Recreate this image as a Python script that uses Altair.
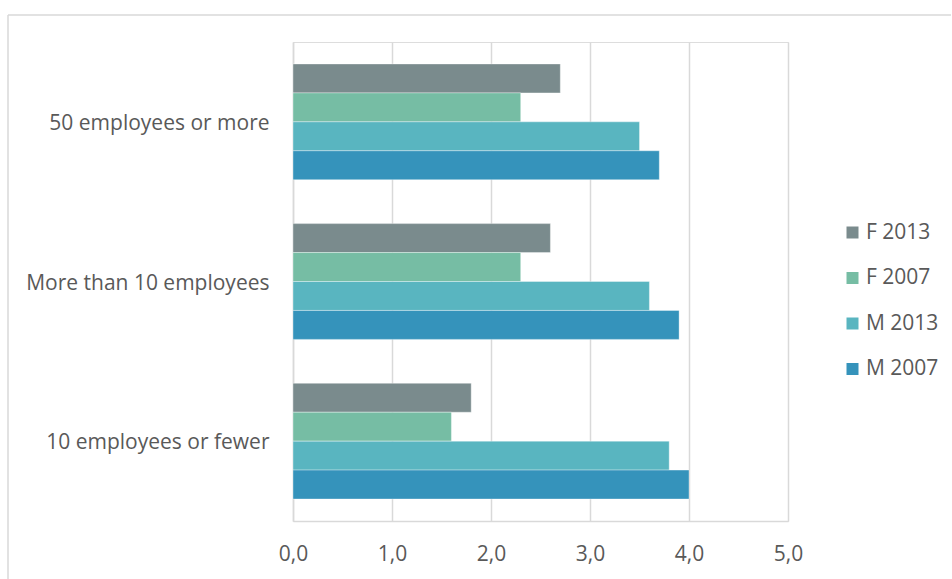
import altair as alt
import pandas as pd

# Company size groups (top to bottom) and the four series (top to bottom within a group)
categories = ["50 employees or more", "More than 10 employees", "10 employees or fewer"]
series = ["F 2013", "F 2007", "M 2013", "M 2007"]

f_2013 = [2.7, 2.6, 1.8]
f_2007 = [2.3, 2.3, 1.6]
m_2013 = [3.5, 3.6, 3.8]
m_2007 = [3.7, 3.9, 4.0]

colors = ["#7A8B8D", "#76BDA4", "#59B5C0", "#3593BB"]
x_ticks = [0, 1, 2, 3, 4, 5]

values_by_series = {"F 2013": f_2013, "F 2007": f_2007, "M 2013": m_2013, "M 2007": m_2007}
rows = []
for s in series:
    for c, v in zip(categories, values_by_series[s]):
        rows.append({"category": c, "series": s, "value": v})
df = pd.DataFrame(rows)

FONT = "Open Sans"
TEXT = "#595959"
GRID = "#D9D9D9"
FS = 21

W, H = 495, 479
PAD = {"left": 293, "top": 42, "right": 164, "bottom": 58}

bars = alt.Chart(df).mark_bar(stroke="#FFFFFF", strokeWidth=0.6, strokeOpacity=0.6).encode(
    x=alt.X(
        "value:Q",
        scale=alt.Scale(domain=[0, 5], nice=False),
        axis=alt.Axis(
            values=x_ticks,
            labelExpr="replace(format(datum.value, '.1f'), '.', ',')",
            grid=True,
            gridColor=GRID,
            gridWidth=1.5,
            domainColor=GRID,
            domainWidth=1.5,
            ticks=False,
            labelFlush=False,
            labelPadding=22,
            labelFontSize=FS,
            labelColor=TEXT,
            labelFont=FONT,
            title=None,
        ),
    ),
    y=alt.Y(
        "category:N",
        sort=categories,
        scale=alt.Scale(paddingInner=0.275, paddingOuter=0.1375),
        axis=alt.Axis(
            ticks=False,
            domainColor=GRID,
            domainWidth=1.5,
            labelPadding=24,
            labelOffset=2,
            labelFontSize=FS,
            labelColor=TEXT,
            labelFont=FONT,
            labelLimit=0,
            title=None,
        ),
    ),
    yOffset=alt.YOffset("series:N", sort=series, scale=alt.Scale(paddingInner=0, paddingOuter=0)),
    color=alt.Color(
        "series:N",
        sort=series,
        scale=alt.Scale(domain=series, range=colors),
        legend=alt.Legend(
            title=None,
            orient="none",
            legendX=549,
            legendY=180,
            symbolType="square",
            symbolSize=144,
            symbolStrokeWidth=0,
            labelFontSize=FS,
            labelColor=TEXT,
            labelFont=FONT,
            rowPadding=23.5,
            labelOffset=3,
        ),
    ),
)

one = alt.Data(values=[{}])
frame_left = alt.Chart(one).mark_rule(color=GRID, strokeWidth=1.5, clip=False).encode(
    x=alt.value(-285), y=alt.value(-27), y2=alt.value(H + PAD["bottom"] + 5)
)
frame_top = alt.Chart(one).mark_rule(color=GRID, strokeWidth=1.5, clip=False).encode(
    x=alt.value(-285), x2=alt.value(W + PAD["right"] - 1), y=alt.value(-27)
)

chart = (
    alt.layer(frame_left, frame_top, bars)
    .properties(width=W, height=H, autosize=alt.AutoSizeParams(type="none"), padding=PAD)
    .configure_view(stroke=None)
    .configure(background="#FFFFFF")
)

chart.save("out.html", embed_options={"renderer": "svg", "actions": False})
